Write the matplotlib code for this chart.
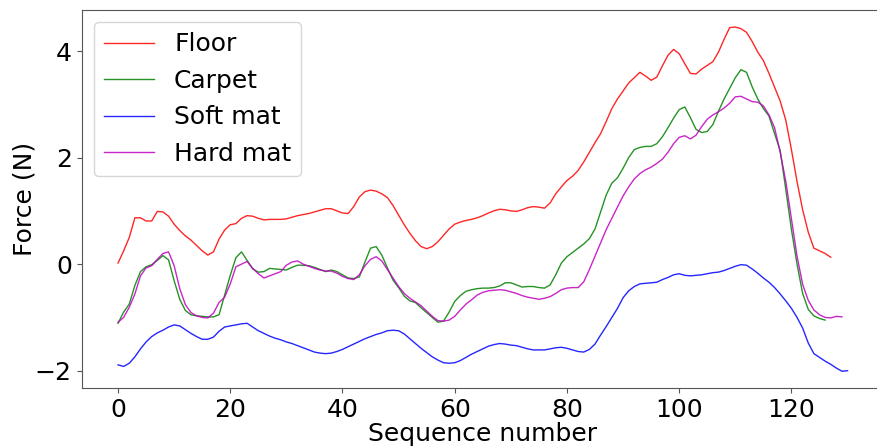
import matplotlib
matplotlib.use("Agg")
import matplotlib.pyplot as plt
import numpy as np

# force traces, one value per sequence number
floor = [0.02, 0.25, 0.50, 0.87, 0.87, 0.81, 0.81, 0.99, 0.98, 0.90,
         0.75, 0.63, 0.53, 0.45, 0.35, 0.25, 0.17, 0.23, 0.47, 0.64,
         0.74, 0.76, 0.86, 0.91, 0.90, 0.86, 0.83, 0.84, 0.84, 0.84,
         0.85, 0.88, 0.91, 0.93, 0.95, 0.98, 1.01, 1.04, 1.04, 1.00,
         0.96, 0.95, 1.08, 1.26, 1.36, 1.39, 1.37, 1.32, 1.25, 1.10,
         0.92, 0.74, 0.58, 0.44, 0.33, 0.29, 0.33, 0.42, 0.54, 0.66,
         0.75, 0.79, 0.82, 0.84, 0.87, 0.91, 0.96, 1.00, 1.03, 1.02,
         1.00, 0.99, 1.02, 1.06, 1.08, 1.07, 1.05, 1.15, 1.32, 1.45,
         1.57, 1.65, 1.76, 1.92, 2.10, 2.28, 2.45, 2.68, 2.92, 3.10,
         3.25, 3.40, 3.50, 3.60, 3.53, 3.45, 3.51, 3.72, 3.92, 4.03,
         3.95, 3.76, 3.58, 3.57, 3.66, 3.73, 3.80, 3.98, 4.22, 4.44,
         4.45, 4.42, 4.35, 4.18, 3.98, 3.82, 3.58, 3.32, 3.06, 2.70,
         2.15, 1.55, 1.02, 0.60, 0.30, 0.25, 0.20, 0.13]

carpet = [-1.11, -0.90, -0.75, -0.40, -0.14, -0.05, -0.01, 0.07, 0.16, 0.08,
          -0.31, -0.66, -0.87, -0.95, -0.97, -0.98, -0.99, -0.99, -0.95, -0.58,
          -0.21, 0.12, 0.23, 0.07, -0.09, -0.15, -0.14, -0.08, -0.09, -0.10,
          -0.11, -0.06, -0.02, -0.02, -0.03, -0.06, -0.10, -0.14, -0.11, -0.14,
          -0.20, -0.26, -0.27, -0.24, 0.04, 0.30, 0.33, 0.17, -0.07, -0.30,
          -0.44, -0.60, -0.69, -0.72, -0.82, -0.91, -1.00, -1.09, -1.07, -0.90,
          -0.70, -0.59, -0.51, -0.48, -0.46, -0.45, -0.45, -0.44, -0.41, -0.35,
          -0.35, -0.39, -0.43, -0.42, -0.42, -0.44, -0.45, -0.39, -0.20, 0.02,
          0.14, 0.22, 0.30, 0.38, 0.48, 0.66, 0.98, 1.30, 1.52, 1.62,
          1.80, 2.00, 2.15, 2.19, 2.21, 2.21, 2.26, 2.39, 2.56, 2.74,
          2.90, 2.95, 2.75, 2.53, 2.47, 2.49, 2.62, 2.87, 3.10, 3.30,
          3.50, 3.65, 3.60, 3.33, 3.10, 2.92, 2.78, 2.45, 2.13, 1.40,
          0.65, 0.00, -0.55, -0.85, -0.97, -1.02, -1.05]

soft_mat = [-1.89, -1.92, -1.86, -1.74, -1.59, -1.46, -1.36, -1.29, -1.24, -1.18,
            -1.14, -1.16, -1.23, -1.30, -1.36, -1.41, -1.41, -1.37, -1.26, -1.18,
            -1.16, -1.14, -1.12, -1.11, -1.18, -1.25, -1.30, -1.35, -1.39, -1.42,
            -1.46, -1.49, -1.53, -1.57, -1.61, -1.65, -1.67, -1.68, -1.67, -1.64,
            -1.60, -1.55, -1.50, -1.45, -1.40, -1.36, -1.32, -1.29, -1.25, -1.24,
            -1.25, -1.31, -1.40, -1.49, -1.58, -1.66, -1.74, -1.80, -1.85, -1.86,
            -1.85, -1.81, -1.75, -1.69, -1.64, -1.59, -1.54, -1.51, -1.49, -1.50,
            -1.52, -1.53, -1.56, -1.59, -1.61, -1.61, -1.61, -1.59, -1.57, -1.56,
            -1.58, -1.61, -1.64, -1.65, -1.60, -1.50, -1.33, -1.17, -1.00, -0.83,
            -0.63, -0.50, -0.42, -0.37, -0.36, -0.35, -0.34, -0.29, -0.25, -0.20,
            -0.18, -0.21, -0.22, -0.21, -0.20, -0.18, -0.16, -0.15, -0.12, -0.08,
            -0.04, -0.01, -0.02, -0.09, -0.17, -0.26, -0.34, -0.44, -0.56, -0.69,
            -0.83, -1.00, -1.20, -1.48, -1.68, -1.75, -1.82, -1.88, -1.95, -2.01,
            -2.00]

hard_mat = [-1.09, -1.00, -0.81, -0.56, -0.22, -0.07, -0.03, 0.09, 0.20, 0.23,
            -0.03, -0.46, -0.76, -0.91, -0.97, -1.00, -1.01, -0.92, -0.72, -0.62,
            -0.37, -0.05, 0.00, 0.05, -0.08, -0.18, -0.26, -0.22, -0.18, -0.14,
            -0.02, 0.04, 0.06, 0.00, -0.04, -0.08, -0.11, -0.13, -0.13, -0.17,
            -0.23, -0.27, -0.29, -0.20, -0.03, 0.09, 0.14, 0.06, -0.10, -0.26,
            -0.42, -0.55, -0.64, -0.71, -0.78, -0.88, -0.98, -1.06, -1.07, -1.05,
            -0.98, -0.86, -0.75, -0.67, -0.58, -0.53, -0.50, -0.49, -0.48, -0.49,
            -0.52, -0.55, -0.59, -0.62, -0.64, -0.66, -0.64, -0.61, -0.55, -0.48,
            -0.45, -0.44, -0.44, -0.33, -0.10, 0.15, 0.40, 0.65, 0.86, 1.07,
            1.28, 1.45, 1.60, 1.70, 1.77, 1.82, 1.89, 1.97, 2.10, 2.26,
            2.38, 2.41, 2.35, 2.42, 2.58, 2.72, 2.80, 2.86, 2.93, 3.02,
            3.14, 3.15, 3.10, 3.05, 3.04, 2.97, 2.80, 2.56, 2.10, 1.55,
            0.85, 0.15, -0.38, -0.68, -0.86, -0.95, -1.00, -1.01, -0.98, -0.99]

labels = ["Floor", "Carpet", "Soft mat", "Hard mat"]
colors = ["r", "g", "b", "m"]

fig = plt.figure(figsize=(8.77, 4.47), dpi=100)
ax = fig.add_axes([0.093, 0.131, 0.915, 0.847])

for data, lab, col in zip([floor, carpet, soft_mat, hard_mat], labels, colors):
    ax.plot(np.arange(len(data)), data, color=col, lw=1.0, alpha=0.85, label=lab)

ax.set_xlabel("Sequence number", fontsize=18, labelpad=0)
ax.set_ylabel("Force (N)", fontsize=18, labelpad=-1)
ax.tick_params(labelsize=18, color="#555555")
for s in ax.spines.values():
    s.set_color("#555555")
ax.legend(loc="upper left", fontsize=18)

fig.savefig("out.png", dpi=100)
